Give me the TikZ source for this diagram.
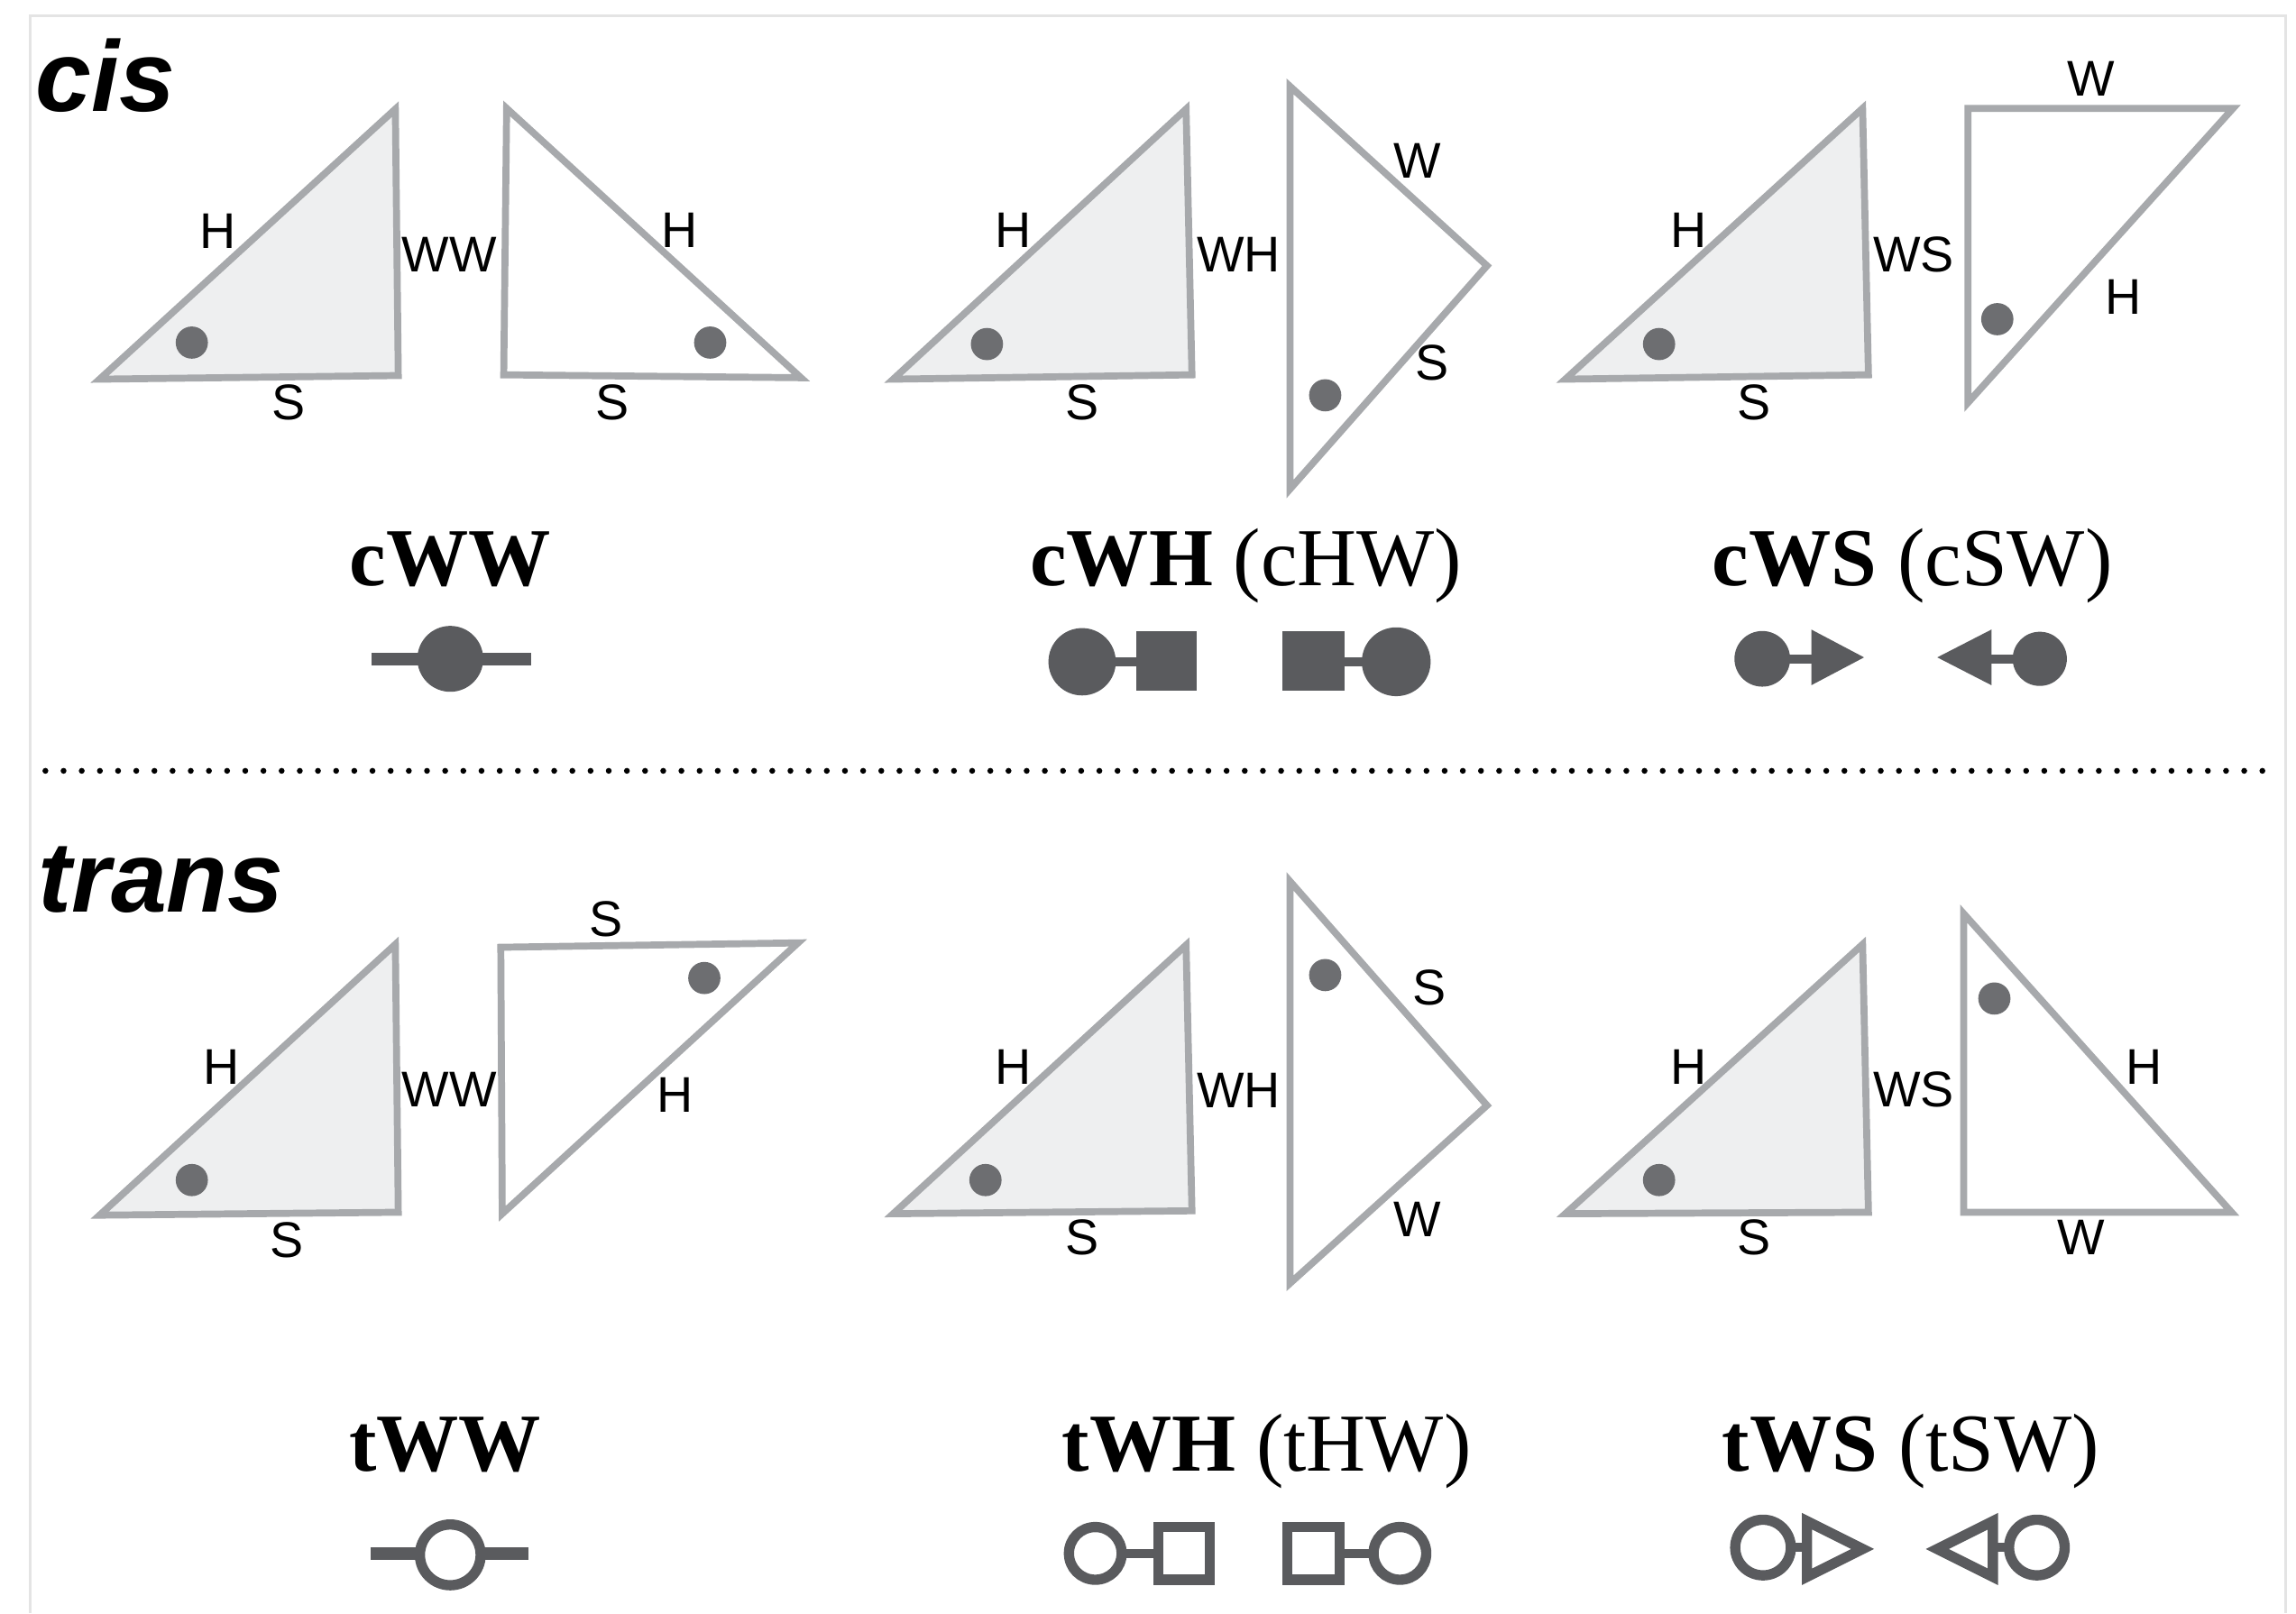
\documentclass[tikz,border=0pt]{standalone}
\usepackage{fontspec}
\setmainfont{Liberation Sans}
\newfontfamily\namefont{Liberation Serif}

\definecolor{edgegrey}{HTML}{A7A9AC}
\definecolor{facegrey}{HTML}{EEEFF0}
\definecolor{dotgrey}{HTML}{6D6E71}
\definecolor{symgrey}{HTML}{5A5B5E}
\definecolor{framegrey}{HTML}{E4E4E4}

\tikzset{
  tri/.style={draw=edgegrey, line width=0.095cm, line join=miter},
  basetri/.style={tri, fill=facegrey},
  pairtri/.style={tri, fill=white},
  cornerdot/.style={fill=dotgrey},
  side/.style={inner sep=0pt, font=\fontsize{19.5}{22}\selectfont},
  heading/.style={anchor=base west, inner sep=0pt, font=\fontsize{39}{42}\selectfont\bfseries\itshape},
  family/.style={anchor=base, inner sep=0pt, font=\namefont\fontsize{32}{36}\selectfont},
  wwbar/.style={draw=symgrey, line width=0.17cm},
  linkbar/.style={draw=symgrey, line width=0.12cm},
  solid sym/.style={fill=symgrey},
  open sym/.style={draw=symgrey, line width=0.14cm, fill=white, line join=miter}
}

\begin{document}
\begin{tikzpicture}[x=0.02cm, y=-0.02cm]
\useasboundingbox (0,0) rectangle (1568,1102);
\draw[framegrey, line width=0.04cm] (20.5,1102) -- (20.5,11) -- (1561,11) -- (1561,1102);

\node[heading] (cis) at (24,76) {cis};
\node[heading] (trans) at (26,623) {trans};

% cis row
\coordinate (A1) at (68,259);   \coordinate (A2) at (270,74.5); \coordinate (A3) at (272,256.5);
\coordinate (B1) at (346,74);   \coordinate (B2) at (344,256);  \coordinate (B3) at (547,258);
\draw[basetri] (A1) -- (A2) -- (A3) -- cycle;
\draw[pairtri] (B1) -- (B3) -- (B2) -- cycle;
\fill[cornerdot] (131,234) circle (11);
\fill[cornerdot] (485,234) circle (11);
\node[side] (cww-h1) at (149,158) {H};
\node[side] (cww-ww) at (307,174) {WW};
\node[side] (cww-h2) at (464,157) {H};
\node[side] (cww-s1) at (197,275) {S};
\node[side] (cww-s2) at (418,275) {S};

\coordinate (C1) at (610,259);  \coordinate (C2) at (810,74.5); \coordinate (C3) at (814,256);
\coordinate (D1) at (881,59);   \coordinate (D2) at (1015.5,181.5); \coordinate (D3) at (881,334);
\draw[basetri] (C1) -- (C2) -- (C3) -- cycle;
\draw[pairtri] (D1) -- (D2) -- (D3) -- cycle;
\fill[cornerdot] (674,235) circle (11);
\fill[cornerdot] (905,270) circle (11);
\node[side] (cwh-h) at (692,157) {H};
\node[side] (cwh-wh) at (846,174) {WH};
\node[side] (cwh-w) at (968,110) {W};
\node[side] (cwh-s2) at (978,247.5) {S};
\node[side] (cwh-s1) at (739,275) {S};

\coordinate (E1) at (1069,259); \coordinate (E2) at (1272,74);  \coordinate (E3) at (1276,256);
\coordinate (F1) at (1344,74);  \coordinate (F2) at (1525,74);  \coordinate (F3) at (1344,275);
\draw[basetri] (E1) -- (E2) -- (E3) -- cycle;
\draw[pairtri] (F1) -- (F2) -- (F3) -- cycle;
\fill[cornerdot] (1133,235) circle (11);
\fill[cornerdot] (1364,218) circle (11);
\node[side] (cws-h1) at (1153,157) {H};
\node[side] (cws-ws) at (1307,174) {WS};
\node[side] (cws-w) at (1428,54) {W};
\node[side] (cws-h2) at (1450,203) {H};
\node[side] (cws-s) at (1198,275) {S};

\node[family] (cww) at (307.5,400) {\bfseries cWW};
\node[family] (cwh) at (851,400) {\bfseries cWH \mdseries(cHW)};
\node[family] (cws) at (1306,400) {\bfseries cWS \mdseries(cSW)};

\draw[wwbar] (254,450) -- (363,450);
\fill[solid sym] (307.5,450) circle (22.5);

\draw[linkbar] (739,452) -- (797,452);
\fill[solid sym] (739,452) circle (23);
\fill[solid sym] (776,431) rectangle (817,472);
\draw[linkbar] (896,452) -- (953.5,452);
\fill[solid sym] (875.5,431) rectangle (918,472);
\fill[solid sym] (953.5,452) circle (23.5);

\draw[linkbar] (1203.5,450) -- (1250,450);
\fill[solid sym] (1203.5,450) circle (19);
\fill[solid sym] (1237,430) -- (1273,449) -- (1237,468) -- cycle;
\draw[linkbar] (1345,450) -- (1393,450);
\fill[solid sym] (1360,430) -- (1323,449) -- (1360,468) -- cycle;
\fill[solid sym] (1393,450) circle (18.5);

% dotted rule between the two rows
\foreach \i in {0,...,122}
    \fill (31+12.41*\i,526.5) circle (2);

% trans row
\coordinate (G1) at (68,830);   \coordinate (G2) at (270,645);  \coordinate (G3) at (272,828);
\coordinate (K1) at (342,647);  \coordinate (K2) at (545,644);  \coordinate (K3) at (343,829);
\draw[basetri] (G1) -- (G2) -- (G3) -- cycle;
\draw[pairtri] (K1) -- (K2) -- (K3) -- cycle;
\fill[cornerdot] (131,806) circle (11);
\fill[cornerdot] (481,668) circle (11);
\node[side] (tww-s2) at (414,628) {S};
\node[side] (tww-h1) at (151,729) {H};
\node[side] (tww-ww) at (307,744) {WW};
\node[side] (tww-h2) at (461,748) {H};
\node[side] (tww-s1) at (196,847) {S};

\coordinate (L1) at (610,829);  \coordinate (L2) at (810,645.5); \coordinate (L3) at (814,827);
\coordinate (M1) at (881,602);  \coordinate (M2) at (1015.5,755); \coordinate (M3) at (881,876.5);
\draw[basetri] (L1) -- (L2) -- (L3) -- cycle;
\draw[pairtri] (M1) -- (M2) -- (M3) -- cycle;
\fill[cornerdot] (673,806) circle (11);
\fill[cornerdot] (905,666) circle (11);
\node[side] (twh-s2) at (976,674.5) {S};
\node[side] (twh-h) at (692,729) {H};
\node[side] (twh-wh) at (846,745) {WH};
\node[side] (twh-w) at (968,833) {W};
\node[side] (twh-s1) at (739,845) {S};

\coordinate (P1) at (1069,829); \coordinate (P2) at (1272,645); \coordinate (P3) at (1276,828);
\coordinate (Q1) at (1341,624); \coordinate (Q2) at (1341,828); \coordinate (Q3) at (1524,828);
\draw[basetri] (P1) -- (P2) -- (P3) -- cycle;
\draw[pairtri] (Q1) -- (Q3) -- (Q2) -- cycle;
\fill[cornerdot] (1133,806) circle (11);
\fill[cornerdot] (1362,682) circle (11);
\node[side] (tws-h1) at (1153,729) {H};
\node[side] (tws-ws) at (1307,744) {WS};
\node[side] (tws-h2) at (1464,729) {H};
\node[side] (tws-s) at (1198,845) {S};
\node[side] (tws-w) at (1421,845) {W};

\node[family] (tww) at (304,1005) {\bfseries tWW};
\node[family] (twh) at (865,1005) {\bfseries tWH \mdseries(tHW)};
\node[family] (tws) at (1305,1005) {\bfseries tWS \mdseries(tSW)};

\draw[wwbar] (253,1061) -- (361,1061);
\draw[open sym] (307.5,1062) circle (20.75);

\draw[linkbar] (748,1061) -- (808,1061);
\draw[open sym] (748,1061) circle (18);
\draw[open sym] (791,1043) rectangle (826,1079);
\draw[linkbar] (897,1061) -- (956,1061);
\draw[open sym] (879,1043) rectangle (915,1079);
\draw[open sym] (956,1061) circle (18);

\draw[linkbar] (1204,1057) -- (1250,1057);
\draw[open sym] (1204,1057) circle (19);
\draw[open sym] (1234,1039) -- (1272,1058) -- (1234,1077) -- cycle;
\draw[linkbar] (1340,1057) -- (1391,1057);
\draw[open sym] (1361,1039) -- (1323,1058) -- (1361,1077) -- cycle;
\draw[open sym] (1391,1057) circle (19);
\end{tikzpicture}
\end{document}
